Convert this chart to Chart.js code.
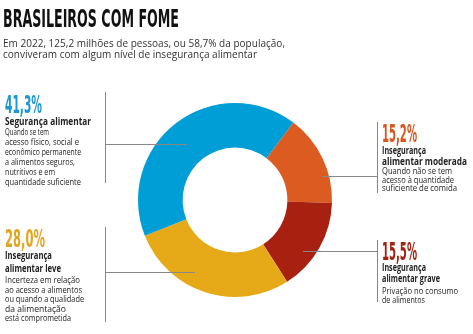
<!DOCTYPE html>
<html>
<head>
<meta charset="utf-8">
<script src="https://cdn.jsdelivr.net/npm/chart.js@4"></script>
<style>
  html, body { margin: 0; padding: 0; background: #fff; }
  #wrap { position: relative; width: 473px; height: 334px; }
</style>
</head>
<body>
<div id="wrap"><canvas id="myChart" width="473" height="334"></canvas></div>
<script>
'use strict';

// slices, clockwise from the orange one
const categories = [
  'Insegurança alimentar moderada',
  'Insegurança alimentar grave',
  'Insegurança alimentar leve',
  'Segurança alimentar'
];
const values = [15.2, 15.5, 28.0, 41.3];
const sliceColors = ['#dc5b20', '#a82010', '#e6aa18', '#009ed6'];
const textColors = ['#d9561d', '#a5200f', '#e3a420', '#1a98d2'];

const labelTitles = [
  ['Insegurança', 'alimentar moderada'],
  ['Insegurança', 'alimentar grave'],
  ['Insegurança', 'alimentar leve'],
  ['Segurança alimentar']
];
const labelTexts = [
  ['Quando não se tem', 'acesso à quantidade', 'suficiente de comida'],
  ['Privação no consumo', 'de alimentos'],
  ['Incerteza em relação', 'ao acesso a alimentos', 'ou quando a qualidade', 'da alimentação', 'está comprometida'],
  ['Quando se tem', 'acesso físico, social e', 'econômico permanente', 'a alimentos seguros,', 'nutritivos e em', 'quantidade suficiente']
];

const title = 'BRASILEIROS COM FOME';
const subtitle = [
  'Em 2022, 125,2 milhões de pessoas, ou 58,7% da população,',
  'conviveram com algum nível de insegurança alimentar'
];

// text block layout: x, baselines and the widths each line takes up
const blocks = [
  { x: 382, pct: 141.5, pctW: 35, tit: [154, 165], titW: [44, 85],
    txt: [174, 182.5, 191], txtW: [70, 72, 75] },
  { x: 382, pct: 260, pctW: 35, tit: [271, 282], titW: [44, 58],
    txt: [293.5, 303], txtW: [76, 43] },
  { x: 5, pct: 246.5, pctW: 40, tit: [259, 272], titW: [47, 56],
    txt: [283, 293, 302, 311.5, 321], txtW: [75, 77, 79, 61, 66] },
  { x: 5, pct: 113, pctW: 37, tit: [125], titW: [86],
    txt: [134.5, 144.5, 155, 165, 175, 185], txtW: [44, 74, 76, 70, 50, 76] }
];
// callout lines: vertical bar and the horizontal pointer
const callouts = [
  { vx: 377, vy1: 122, vy2: 193, hy: 176, hx1: 322, hx2: 377 },
  { vx: 377, vy1: 240, vy2: 302, hy: 251, hx1: 303, hx2: 377 },
  { vx: 105, vy1: 227, vy2: 322, hy: 272, hx1: 105, hx2: 195 },
  { vx: 105, vy1: 92, vy2: 183, hy: 144, hx1: 105, hx2: 187 }
];

const narrow = '"Liberation Sans Narrow", "DejaVu Sans Condensed", sans-serif';
const body = '"Open Sans", "Noto Sans", sans-serif';

function fmt(v) {
  return v.toFixed(1).replace('.', ',') + '%';
}

// draw text stretched or squeezed to a given width
function fitText(ctx, text, x, y, w) {
  const sx = w / ctx.measureText(text).width;
  ctx.save();
  ctx.translate(x, y);
  ctx.scale(sx, 1);
  ctx.fillText(text, 0, 0);
  ctx.restore();
}

const textPlugin = {
  id: 'texts',
  afterDraw(chart) {
    const ctx = chart.ctx;
    ctx.save();
    ctx.textBaseline = 'alphabetic';
    ctx.textAlign = 'left';

    ctx.fillStyle = '#111';
    ctx.font = 'bold 25px ' + narrow;
    fitText(ctx, title, 3, 27, 176);

    ctx.fillStyle = '#333';
    ctx.font = '11.5px ' + body;
    fitText(ctx, subtitle[0], 3, 46.5, 282);
    fitText(ctx, subtitle[1], 3, 58, 254);

    ctx.strokeStyle = '#888';
    ctx.lineWidth = 1;
    for (let i = 0; i < callouts.length; i++) {
      const c = callouts[i];
      ctx.beginPath();
      ctx.moveTo(c.vx + 0.5, c.vy1);
      ctx.lineTo(c.vx + 0.5, c.vy2);
      ctx.moveTo(c.hx1, c.hy + 0.5);
      ctx.lineTo(c.hx2, c.hy + 0.5);
      ctx.stroke();
    }

    for (let i = 0; i < blocks.length; i++) {
      const b = blocks[i];
      ctx.fillStyle = textColors[i];
      ctx.font = 'bold 24px ' + narrow;
      fitText(ctx, fmt(values[i]), b.x, b.pct, b.pctW);

      ctx.fillStyle = '#222';
      ctx.font = 'bold 10px ' + body;
      for (let j = 0; j < labelTitles[i].length; j++) {
        fitText(ctx, labelTitles[i][j], b.x, b.tit[j], b.titW[j]);
      }
      ctx.font = '9px ' + body;
      for (let j = 0; j < labelTexts[i].length; j++) {
        fitText(ctx, labelTexts[i][j], b.x, b.txt[j], b.txtW[j]);
      }
    }
    ctx.restore();
  }
};

new Chart(document.getElementById('myChart'), {
  type: 'doughnut',
  data: {
    labels: categories,
    datasets: [{
      data: values,
      backgroundColor: sliceColors,
      borderWidth: 0
    }]
  },
  options: {
    responsive: false,
    animation: false,
    rotation: 37,
    cutout: '54%',
    layout: { padding: { left: 138, right: 141, top: 103, bottom: 37 } },
    plugins: {
      legend: { display: false },
      tooltip: { enabled: false }
    }
  },
  plugins: [textPlugin]
});
</script>
</body>
</html>
